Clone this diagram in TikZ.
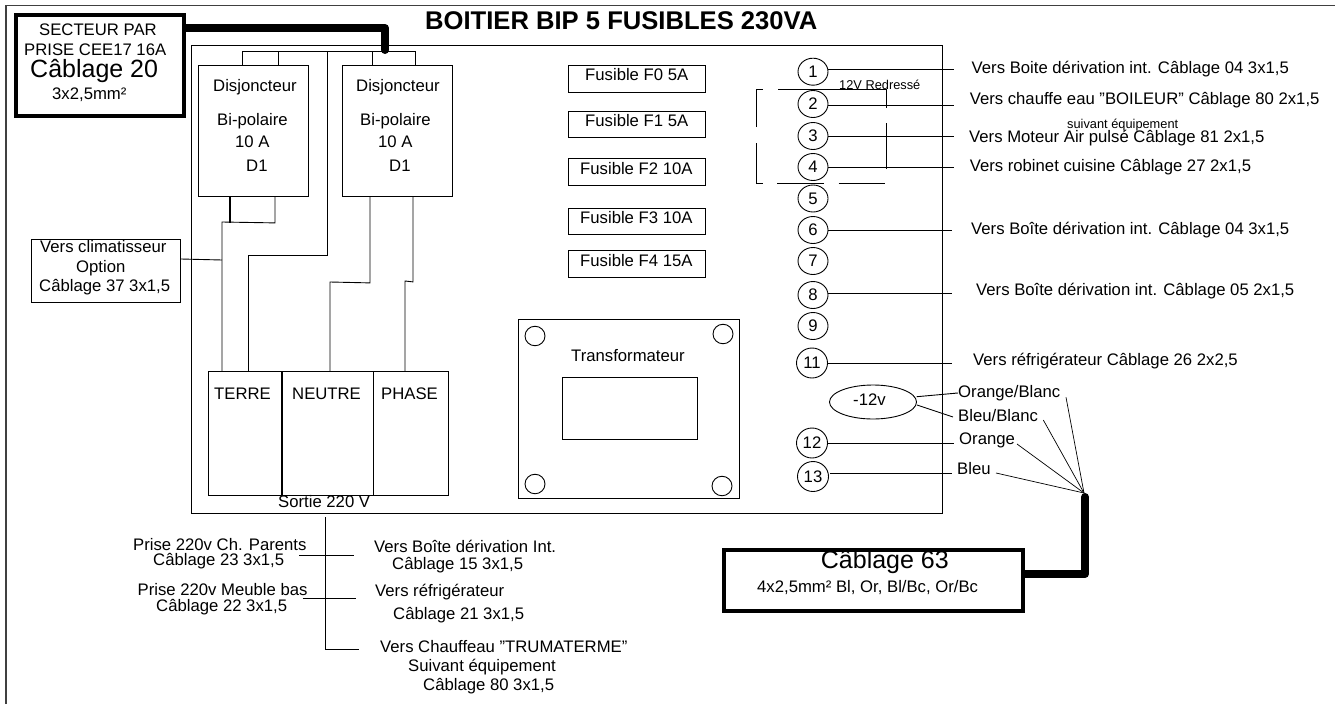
\documentclass[tikz,border=0pt]{standalone}
\usepackage{fontspec}
\setmainfont{Liberation Sans}
\usetikzlibrary{shapes.geometric}
\newcommand\fsn{\fontsize{16.7}{19}\selectfont}
\newcommand\fsb{\fontsize{25}{28}\selectfont}
\newcommand\fss{\fontsize{12.8}{15}\selectfont}
\newcommand\fst{\fontsize{25.6}{28}\selectfont\bfseries}
\tikzset{
  lb/.style={anchor=mid west,inner sep=0pt,font=\fsn},
  lbbig/.style={lb,font=\fsb},
  lbsmall/.style={lb,font=\fss},
  wire/.style={draw=black,line width=0.9pt},
  boxn/.style={draw=black,line width=0.9pt,rectangle,inner sep=0pt,anchor=north west},
  heavybox/.style={draw=black,line width=4pt,rectangle,inner sep=0pt,anchor=north west},
  cable/.style={draw=black,line width=8pt,line cap=round,line join=round},
  numc/.style={draw=black,line width=0.9pt,ellipse,inner sep=0pt,minimum width=30pt,minimum height=27pt,font=\fsn},
  numw/.style={numc,minimum width=31pt,minimum height=30pt},
  hole/.style={draw=black,line width=0.9pt,ellipse,inner sep=0pt,minimum width=20pt,minimum height=19.5pt},
}
\begin{document}
\begin{tikzpicture}[x=1pt,y=-1pt]
\useasboundingbox (0,0) rectangle (1335,704);
\draw[line width=1.5pt,draw=black!75] (6,704) -- (6,5.5) -- (1335,5.5);
% main box
\node[boxn,minimum width=751pt,minimum height=468.5pt] (main) at (190.5,44.5) {};
\node[anchor=mid west,inner sep=0pt,font=\fst] (title) at (425,27) {BOITIER BIP 5 FUSIBLES 230VA};
% mains box
\node[heavybox,minimum width=168pt,minimum height=101pt] (sect) at (14,13) {};
\node[lb] (s1) at (39,33) {SECTEUR PAR};
\node[lb] (s2) at (24,53) {PRISE CEE17 16A};
\node[lbbig] (s3) at (30,75) {Câblage 20};
\node[lb] (s4) at (52,96.5) {3x2,5mm²};
% breakers
\node[boxn,minimum width=110pt,minimum height=131pt] (d1) at (198,65) {};
\node[boxn,minimum width=110pt,minimum height=131pt] (d2) at (342,65) {};
\node[lb] (d1a) at (213,89) {Disjoncteur};
\node[lb] (d1b) at (217,123) {Bi-polaire};
\node[lb] (d1c) at (235,145) {10 A};
\node[lb] (d1d) at (246,169) {D1};
\node[lb] (d2a) at (356,89) {Disjoncteur};
\node[lb] (d2b) at (360,123) {Bi-polaire};
\node[lb] (d2c) at (378,145) {10 A};
\node[lb] (d2d) at (389,169) {D1};
% terminals
\node[boxn,minimum width=73pt,minimum height=124pt] (terre) at (208,371) {};
\node[boxn,minimum width=91.5pt,minimum height=124pt] (neutre) at (281,371) {};
\node[boxn,minimum width=75.5pt,minimum height=124pt] (phase) at (372.5,371) {};
\draw[line width=1.6pt] (terre.north east) -- (terre.south east);
\draw[line width=1.6pt] (neutre.north east) -- (neutre.south east);
\node[lb] (tt) at (214,397) {TERRE};
\node[lb] (tn) at (292,397) {NEUTRE};
\node[lb] (tp) at (381,397) {PHASE};
\node[lb] (sortie) at (278,505) {Sortie 220 V};
% climatiseur
\node[boxn,minimum width=149pt,minimum height=63pt] (clim) at (31,239) {};
\node[lb] (c1) at (40,250) {Vers climatisseur};
\node[lb] (c2) at (76,270) {Option};
\node[lb] (c3) at (39,289) {Câblage 37 3x1,5};
% wires at the breakers
\draw[wire] ([xshift=44]d1.north west) -- ++(0,-14) -- ([xshift=73]d2.north west |- 0,51) -- ([xshift=73]d2.north west);
\draw[wire] ([xshift=80]d1.north west) -- ++(0,-14);
\draw[wire] ([xshift=30]d2.north west) -- ++(0,-14);
\draw[wire] (327,51) -- (327,255) -- (248,255) -- (terre.north west -| 248,371);
\draw[line width=1.3pt] ([xshift=32]d1.south west) -- ++(0,26);
\draw[wire] ([xshift=77]d1.south west) -- ++(0,26) -- (222,222) -- (terre.north west -| 222,371);
\draw[wire] (clim.east |- 0,259) -- (222,260);
\draw[wire] ([xshift=28]d2.south west) -- ++(0,86) -- (330,282) -- (neutre.north west -| 330,371);
\draw[wire] ([xshift=71]d2.south west) -- ++(0,85) -- (405,281) -- (phase.north west -| 405,371);
% mains cable
\draw[cable,line cap=butt] (sect.east |- 0,28) -- (385,28) -- (385,50);
\fill (385,50) circle (4pt);
% fuses
\foreach \n/\y/\h/\tx/\t in {f0/64.7/27/585/Fusible F0 5A,f1/110.7/26.6/585/Fusible F1 5A,f2/158.3/26.7/580/Fusible F2 10A,f3/207.7/26.6/580/Fusible F3 10A,f4/250.3/27/580/Fusible F4 15A}{
  \node[boxn,minimum width=137pt,minimum height=\h pt] (\n) at (568,\y) {};
  \node[lb] (\n t) at (\tx,\y+\h/2) {\t};
}
% transformer
\node[boxn,minimum width=221pt,minimum height=179pt] (tr) at (518,319) {};
\node[boxn,minimum width=135pt,minimum height=62pt] (trin) at (562,377) {};
\node[lb] (trt) at (571,358.5) {Transformateur};
\node[hole] (h1) at (535,336) {};
\node[hole] (h2) at (723,334) {};
\node[hole] (h3) at (535,484) {};
\node[hole] (h4) at (722,486) {};
% numbered terminals
\foreach \n/\y in {1/71.7,2/104,3/136,4/167,5/198.5,6/230,7/261,8/295,9/326}{
  \node[numc] (n\n) at (813,\y) {\n};
}
\node[numw] (n11) at (812,363) {11};
\node[numw] (n12) at (812,443) {12};
\node[numw] (n13) at (813,476.5) {13};
\node[draw=black,line width=0.9pt,ellipse,inner sep=0pt,minimum width=87pt,minimum height=34pt] (neg) at (873,402) {};
\node[lb] (negt) at (853,403) {-12v};
% free ends
\coordinate (e1) at (954,69.5);
\coordinate (e2) at (954,105);
\coordinate (e3) at (954,136);
\coordinate (e4) at (954,167);
\coordinate (e6) at (952,230);
\coordinate (e8) at (952,293);
\coordinate (e11) at (952,363);
\draw[wire] (n1.east |- e1) -- (e1);
\draw[wire] (n2.east |- e2) -- (e2);
\draw[wire] (n3.east |- e3) -- (e3);
\draw[wire] (n4.east |- e4) -- (e4);
\draw[wire] (n6.east |- e6) -- (e6);
\draw[wire] (n8.east |- e8) -- (e8);
\draw[wire] (n11.east |- e11) -- (e11);
\node[lb] (v1) at (971.5,71) {Vers Boite dérivation int. Câblage 04 3x1,5};
\node[lb] (v2) at (969.6,102) {Vers chauffe eau "BOILEUR" Câblage 80 2x1,5};
\node[lbsmall] (v2b) at (1067,126) {suivant équipement};
\node[lb] (v3) at (969,140) {Vers Moteur Air pulsé Câblage 81 2x1,5};
\node[lb] (v4) at (969.6,169) {Vers robinet cuisine Câblage 27 2x1,5};
\node[lb] (v6) at (971,231.5) {Vers Boîte dérivation int. Câblage 04 3x1,5};
\node[lb] (v8) at (976,292.5) {Vers Boîte dérivation int. Câblage 05 2x1,5};
\node[lb] (v11) at (973,362.5) {Vers réfrigérateur Câblage 26 2x2,5};
% 12V rectified bracket
\node[lbsmall] (red) at (839,87) {12V Redressé};
\draw[wire] (756,127) -- (756,89) -- (763,89);
\draw[wire] (778,89) -- (886,89) -- (886,108);
\draw[wire] (886,123) -- (886,169);
\draw[wire] (756,143) -- (756,183) -- (763,183);
\draw[wire] (777,183) -- (823.5,183);
\draw[wire] (838.5,183) -- (885,183);
% lower right
\node[lb] (ob) at (958,395) {Orange/Blanc};
\node[lb] (bb) at (958,418.5) {Bleu/Blanc};
\node[lb] (or) at (959,441.5) {Orange};
\node[lb] (bl) at (957,472) {Bleu};
\coordinate (conv) at (1084,493);
\draw[wire] (916.7,396.7) -- (ob.west |- 0,393) -- (955,393);
\draw[wire] (917,405) -- (953,417);
\draw[wire] (n12.east) -- (954,443);
\draw[wire] (830,473) -- (952,473);
\draw[line width=0.7pt] (1066,397.3) -- (conv);
\draw[line width=0.7pt] (1043.3,420) -- (conv);
\draw[line width=0.7pt] (1017,444) -- (conv);
\draw[line width=0.7pt] (996,473) -- (conv);
\node[heavybox,minimum width=298.5pt,minimum height=61pt] (c63) at (722,547.5) {};
\node[lbbig] (c63a) at (820.7,566) {Câblage 63};
\node[lb] (c63b) at (757,590) {4x2,5mm² Bl, Or, Bl/Bc, Or/Bc};
\draw[cable,line cap=butt] (c63.east |- 0,574) -- (1085,574) -- (1085,497);
\fill (1085,497) circle (4pt);
% outputs
\coordinate (s0) at (325.5,517);
\coordinate (s3e) at (358.5,649);
\draw[wire] (s0) -- (325.5,649) -- (s3e);
\draw[wire] (299,555.7) -- (353.6,555.7);
\draw[wire] (302.7,598.7) -- (355.8,598.7);
\node[lb] (p1) at (133,547.5) {Prise 220v Ch. Parents};
\node[lb] (p1b) at (153,563) {Câblage 23 3x1,5};
\node[lb] (p2) at (137.5,593) {Prise 220v Meuble bas};
\node[lb] (p2b) at (156,609) {Câblage 22 3x1,5};
\node[lb] (r1) at (374,550) {Vers Boîte dérivation Int.};
\node[lb] (r1b) at (392,567) {Câblage 15 3x1,5};
\node[lb] (r2) at (375,594) {Vers réfrigérateur};
\node[lb] (r2b) at (393,617) {Câblage 21 3x1,5};
\node[lb] (r3) at (380,650) {Vers Chauffeau "TRUMATERME"};
\node[lb] (r3b) at (408,669) {Suivant équipement};
\node[lb] (r3c) at (423,688) {Câblage 80 3x1,5};
\end{tikzpicture}
\end{document}
